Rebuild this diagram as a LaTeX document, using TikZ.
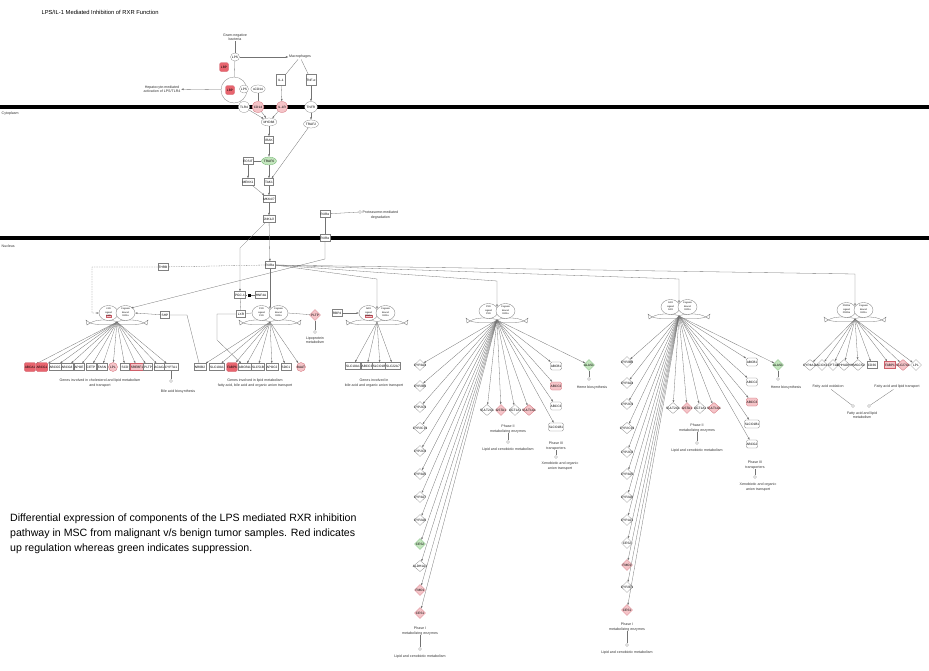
\documentclass[tikz,border=0pt]{standalone}
\usepackage{fontspec}
\setmainfont{Liberation Sans}
\usetikzlibrary{arrows.meta,shapes.geometric,positioning}
\definecolor{upstrong}{RGB}{232,100,110}
\definecolor{uplight}{RGB}{245,196,200}
\definecolor{upline}{RGB}{205,95,105}
\definecolor{dnlight}{RGB}{196,230,190}
\definecolor{dnline}{RGB}{95,170,95}
\tikzset{
  memb/.style={line width=4pt, black},
  link/.style={draw=black!55, line width=0.3pt},
  act/.style={link, -{Latex[length=2.4pt,width=1.8pt]}},
  fn/.style={font=\fontsize{3.6}{4.2}\selectfont, align=center, inner sep=0.5pt, text=black!80},
  lbl/.style={font=\fontsize{3.2}{3.6}\selectfont, inner sep=0.6pt, draw=black!50, fill=white, line width=0.25pt},
  bx/.style={lbl, rectangle, minimum width=9pt, minimum height=7pt},
  bxup/.style={bx, fill=uplight, draw=upline},
  tf/.style={lbl, ellipse, minimum width=9pt, minimum height=8pt, inner sep=0.2pt},
  tfup/.style={tf, fill=uplight, draw=upline},
  tfdn/.style={tf, fill=dnlight, draw=dnline},
  tp/.style={lbl, rectangle, rounded corners=1.5pt, minimum width=9pt, minimum height=8pt, inner sep=0.4pt},
  tpup/.style={tp, fill=uplight, draw=upline},
  tpx/.style={tp, fill=upstrong, draw=upline, minimum height=9pt},
  cir/.style={lbl, circle, minimum size=9pt, inner sep=0pt},
  cirup/.style={cir, fill=uplight, draw=upline},
  dia/.style={lbl, diamond, aspect=1.2, inner sep=-0.8pt, minimum width=11pt, minimum height=11pt},
  diaup/.style={dia, fill=uplight, draw=upline},
  diadn/.style={dia, fill=dnlight, draw=dnline},
  endpt/.style={circle, draw=black!55, fill=white, line width=0.3pt, inner sep=0pt, minimum size=3pt},
  cpx/.style={draw=black!55, fill=white, line width=0.3pt},
  ctext/.style={font=\fontsize{2.3}{2.6}\selectfont, inner sep=0.3pt},
  inred/.style={draw=upline, fill=uplight, line width=0.2pt},
  pics/dimer/.style n args={3}{code={
    \draw[cpx] (-27,10) .. controls (-20,6) and (-10,6.5) .. (0,8.5) .. controls (10,6.5) and (20,6) .. (27,10)
      .. controls (20,12.5) and (10,11) .. (0,11.5) .. controls (-10,11) and (-20,12.5) .. (-27,10) -- cycle;
    \draw[cpx] (-27,10) -- (-31,7) -- (-30,12) -- cycle;
    \draw[cpx] (27,10) -- (31,7) -- (30,12) -- cycle;
    \draw[cpx] (-8.5,0) ellipse (9.5 and 7.5);
    \draw[cpx] (8.5,0) ellipse (9.5 and 7.5);
    \node[ctext] at (-8.5,-3.8) {#1};
    \node[ctext] at (-8.5,-0.6) {Ligand};
    \node[ctext, #3] at (-8.5,3) {#2};
    \node[ctext] at (8.5,-3.8) {Cognate};
    \node[ctext] at (8.5,-0.6) {Bound};
    \node[ctext] at (8.5,3) {RXRα};
    \coordinate (-n) at (0,-4);
    \coordinate (-s) at (0,9);
    \coordinate (-w) at (-18,0);
    \coordinate (-e) at (18,0);
    \coordinate (-ne) at (14,-5);
  }}
}

\begin{document}
\begin{tikzpicture}[x=1pt,y=-1pt]
  \useasboundingbox (0,0) rectangle (929,670);
  \node[anchor=west, font=\fontsize{5.8}{7}\selectfont] (title) at (38,12) {LPS/IL-1 Mediated Inhibition of RXR Function};

  % membranes
  \draw[memb] (0,107) -- (929,107);
  \draw[memb] (0,238) -- (929,238);
  \node[fn, anchor=west] (cyto) at (1,114) {Cytoplasm};
  \node[fn, anchor=west] (nucl) at (1,246) {Nucleus};

  % extracellular
  \node[fn] (gram) at (235,37) {Gram-negative\\bacteria};
  \node[tf] (lps) at (235,57) {LPS};
  \node[fn] (macro) at (300,57) {Macrophages};
  \node[tpx] (lbp) at (224,67) {LBP};
  \node[bx, minimum height=11pt] (il1) at (281,80) {IL-1};
  \node[bx, minimum height=11pt] (tnf) at (311,80) {TNF-α};
  \node[circle, draw=black!50, line width=0.3pt, minimum size=26pt, inner sep=0pt] (lbpc) at (234,90) {};
  \node[tpx] (lbpin) at (230,90) {LBP};
  \node[tf] (lpsin) at (244,89) {LPS};
  \node[tf] (scd14) at (258,89) {sCD14};
  \node[fn] (hep) at (162,89) {Hepatocyte-mediated\\activation of LPS/TLR4};
  \draw[link] (gram) -- (lps);
  \draw[act] (lps) -- (macro);
  \draw[link] (macro) -- (il1);
  \draw[link] (macro) -- (tnf);
  \draw[link] (lps) -- (lbpc);
  \draw[act] (lbpc) -- (hep);

  % receptors
  \node[tf, minimum height=11pt] (tlr4) at (244,107) {TLR4};
  \node[tfup, minimum height=11pt] (cd14) at (258,107) {CD14};
  \node[tfup, minimum height=11pt] (il1r) at (282,107) {IL-1R};
  \node[tf, minimum height=11pt] (tnfr) at (311,107) {TNFR};
  \draw[link] (lbpc) -- (tlr4);
  \draw[link] (scd14) -- (cd14);
  \draw[act] (il1) -- (il1r);
  \draw[act] (tnf) -- (tnfr);

  % cytoplasm cascade
  \node[tf] (myd88) at (269,122) {MYD88};
  \node[tf] (traf2) at (311,124) {TRAF2};
  \node[bx] (irak) at (269,140) {IRAK};
  \node[tfdn] (traf6) at (269,161) {TRAF6};
  \node[bx] (ecsit) at (248,161) {ECSIT};
  \node[bx] (mekk1) at (248,182) {MEKK1};
  \node[bx] (tak1) at (269,182) {TAK1};
  \node[bx] (mkk) at (269,199) {MKK4/7};
  \node[bx] (jnk) at (269,219) {JNK1/2};
  \node[bx] (rxrc) at (325,214) {RXRα};
  \node[endpt] (protc) at (360,212) {};
  \node[fn, anchor=west] (prot) at (362,215) {Proteasome-mediated\\degradation};
  \draw[act] (tlr4) -- (myd88);
  \draw[act] (cd14) -- (myd88);
  \draw[act] (il1r) -- (myd88);
  \draw[act] (tnfr) -- (traf2);
  \draw[act] (myd88) -- (irak);
  \draw[act] (irak) -- (traf6);
  \draw[link] (ecsit) -- (traf6);
  \draw[act] (ecsit) -- (mekk1);
  \draw[act] (traf6) -- (tak1);
  \draw[act] (traf2) -- (tak1);
  \draw[act] (mekk1) -- (mkk);
  \draw[act] (tak1) -- (mkk);
  \draw[act] (mkk) -- (jnk);
  \draw[link] (rxrc) -- (protc);

  % nucleus
  \node[bx] (rxrm) at (325,238) {RXRα};
  \node[bx] (rxr) at (270,265) {RXRα};
  \node[bx] (thr) at (163,267) {THRB};
  \node[bx] (pgc) at (240,295) {PGC-1};
  \node[fill=black, inner sep=0pt, minimum size=3pt] (pgcdot) at (249,295) {};
  \node[bx] (hnf) at (261,295) {HNF4A};
  \node[bx] (lxrb) at (241,314) {LXR};
  \node[bx] (shp) at (165,315) {SHP};
  \node[bx] (rbp) at (337,313) {RBP4};
  \draw[link] (rxrm) -- (rxrc);
  \draw[act] (jnk) -- (rxr);
  \draw[act] (jnk) -- (240,248) -- (pgc);
  \draw[link] (pgc) -- (pgcdot) -- (hnf);
  \draw[link] (pgc) -- (lxrb);

  % heterodimers
  \pic (lxrc) at (117,313) {dimer={LXR}{LXR}{inred}};
  \pic (fxrc) at (270,313) {dimer={FXR}{FXR}{}};
  \pic (rarc) at (377,313) {dimer={RAR}{RARα}{inred}};
  \pic (pxrc) at (497,311) {dimer={PXR}{PXR}{}};
  \pic (carc) at (679,307) {dimer={CAR}{CAR}{}};
  \pic (pparc) at (855,310) {dimer={PPARα}{PPARα}{}};

  \draw[act, dash pattern=on 1.5pt off 1pt] (rxr.west) -- (thr) -- (92,267) -- (92,313) -- (lxrc-w);
  \draw[act] (rxrm) -- (325,259) -- (lxrc-ne);
  \draw[act] (shp) -- (lxrc-e);
  \draw[act] (rxr) -- (fxrc-n);
  \draw[act] (rxr.east) -- (377,279) -- (rarc-n);
  \draw[act] (rxr.east) -- (497,281) -- (pxrc-n);
  \draw[act] (rxr.east) -- (679,279) -- (carc-n);
  \draw[act] (rxr.east) -- (855,274) -- (pparc-n);
  \draw[link] (lxrb) -- (fxrc-w);
  \draw[act] (rbp) -- (rarc-w);

  % LXR targets
  \foreach \i/\x/\t/\s in {1/30/ABCA1/tpx,2/42/ABCG1/tpx,3/55/ABCG5/bx,4/67/ABCG8/bx,5/79/APOE/bx,6/91/CETP/bx,7/102/FASN/bx,8/113/LPL/cirup,9/125/SCD/bx,10/137/SREBF1/bxup,11/148/PLTP/bx,12/160/ACACA/bx,13/171/CYP7A1/bx}{
    \node[\s] (lt\i) at (\x,367) {\t};
    \draw[act] (lxrc-s) -- (lt\i);
  }
  \node[fn] (lxfn) at (100,383) {Genes involved in cholesterol and lipid metabolism\\and transport};
  \node[endpt] (babc) at (171,381) {};
  \node[fn] (bab) at (178,392) {Bile acid biosynthesis};
  \draw[link] (lt13) -- (babc);

  % FXR targets
  \foreach \i/\x/\t/\s in {1/200/NR0B2/bx,2/217/SLC10A1/bx,3/232/FABP6/tpx,4/245/ABCB11/bx,5/258/SLC51B/bx,6/272/APOC2/bx,7/286/SDC1/bx,8/301/BAAT/cirup}{
    \node[\s] (ft\i) at (\x,367) {\t};
    \draw[act] (fxrc-s) -- (ft\i);
  }
  \draw[link] (ft1) -- (187,315) -- (shp);
  \draw[act] (lxrb.west) -- (217,314) -- (217,340) -- (ft4);
  \node[fn] (fxfn) at (255,383) {Genes involved in lipid metabolism\\fatty acid, bile acid and organic anion transport};
  \node[diaup] (pltp) at (315,315) {PLTP};
  \node[endpt] (pltpc) at (315,332) {};
  \node[fn] (lipo) at (315,340) {Lipoprotein\\metabolism};
  \draw[link] (fxrc-e) -- (pltp);
  \draw[link] (pltp) -- (pltpc);

  % RAR targets
  \foreach \i/\x/\t in {1/353/SLC10A1,2/367/ABCC3,3/380/SLCO1B1,4/393/SLC22A7}{
    \node[bx] (rt\i) at (\x,366) {\t};
    \draw[act] (rarc-s) -- (rt\i);
  }
  \node[fn] (rafn) at (374,383) {Genes involved in\\bile acid and organic anion transport};

  % PXR targets
  \foreach \i/\y/\t/\s in {1/365/CYP3A4/dia,2/386/CYP2B6/dia,3/407/CYP2C9/dia,4/428/CYP2C19/dia,5/451/CYP2C8/dia,6/474/CYP3A5/dia,7/497/CYP3A7/dia,8/520/CYP2A6/dia,9/544/CES2/diadn,10/566/ALDH1A1/dia,11/590/FMO1/diaup,12/613/CES1/diaup}{
    \node[\s] (pa\i) at (420,\y) {\t};
    \draw[act] (pxrc-s) -- (pa\i);
  }
  \node[fn] (pxp1) at (420,631) {Phase I\\metabolizing enzymes};
  \node[endpt] (pxp1c) at (420,649) {};
  \node[fn] (pxp1f) at (420,657) {Lipid and xenobiotic metabolism};
  \draw[link] (pxp1) -- (pxp1c);
  \foreach \i/\x/\t/\s in {1/487/SULT2A1/dia,2/501/GSTA1/diaup,3/515/UGT1A1/dia,4/529/SULT1A1/diaup}{
    \node[\s] (pb\i) at (\x,410) {\t};
    \draw[act] (pxrc-s) -- (pb\i);
  }
  \node[fn] (pxp2) at (508,429) {Phase II\\metabolizing enzymes};
  \node[endpt] (pxp2c) at (508,442) {};
  \node[fn] (pxp2f) at (508,450) {Lipid and xenobiotic metabolism};
  \draw[link] (pxp2) -- (pxp2c);
  \foreach \i/\y/\t/\s in {1/366/ABCB1/tp,2/386/ABCC2/tpup,3/406/ABCC3/tp,4/427/SLCO1B1/tp}{
    \node[\s] (pc\i) at (556,\y) {\t};
    \draw[act] (pxrc-s) -- (pc\i);
  }
  \node[fn] (pxp3) at (556,446) {Phase III\\transporters};
  \node[endpt] (pxp3c) at (556,457) {};
  \node[fn] (pxp3f) at (560,466) {Xenobiotic and organic\\anion transport};
  \draw[link] (pxp3) -- (pxp3c);
  \node[diadn] (pxalas) at (589,365) {ALAS1};
  \node[endpt] (pxalasc) at (589,379) {};
  \node[fn] (pxheme) at (592,388) {Heme biosynthesis};
  \draw[act] (pxrc-s) -- (pxalas);
  \draw[link] (pxalas) -- (pxalasc);

  % CAR targets
  \foreach \i/\y/\t/\s in {1/362/CYP2B6/dia,2/383/CYP3A4/dia,3/404/CYP2C9/dia,4/428/CYP2C19/dia,5/452/CYP2C8/dia,6/474/CYP3A5/dia,7/497/CYP2A6/dia,8/520/CYP1A1/dia,9/543/CES2/dia,10/565/FMO1/diaup,11/587/CYP2E1/dia,12/610/CES1/diaup}{
    \node[\s] (ca\i) at (627,\y) {\t};
    \draw[act] (carc-s) -- (ca\i);
  }
  \node[fn] (cap1) at (627,627) {Phase I\\metabolizing enzymes};
  \node[endpt] (cap1c) at (627,645) {};
  \node[fn] (cap1f) at (627,653) {Lipid and xenobiotic metabolism};
  \draw[link] (cap1) -- (cap1c);
  \foreach \i/\x/\t/\s in {1/673/SULT2A1/dia,2/687/GSTA1/diaup,3/700/UGT1A1/dia,4/714/SULT1A1/diaup}{
    \node[\s] (cb\i) at (\x,408) {\t};
    \draw[act] (carc-s) -- (cb\i);
  }
  \node[fn] (cap2) at (697,428) {Phase II\\metabolizing enzymes};
  \node[endpt] (cap2c) at (697,443) {};
  \node[fn] (cap2f) at (697,451) {Lipid and xenobiotic metabolism};
  \draw[link] (cap2) -- (cap2c);
  \foreach \i/\y/\t/\s in {1/362/ABCB1/tp,2/382/ABCC2/tp,3/402/ABCC3/tpup,4/424/SLCO1B1/tp,5/444/ABCG2/tp}{
    \node[\s] (cc\i) at (752,\y) {\t};
    \draw[act] (carc-s) -- (cc\i);
  }
  \node[fn] (cap3) at (755,465) {Phase III\\transporters};
  \node[endpt] (cap3c) at (755,477) {};
  \node[fn] (cap3f) at (758,487) {Xenobiotic and organic\\anion transport};
  \draw[link] (cap3) -- (cap3c);
  \node[diadn] (caalas) at (778,365) {ALAS1};
  \node[endpt] (caalasc) at (778,379) {};
  \node[fn] (caheme) at (786,388) {Heme biosynthesis};
  \draw[act] (carc-s) -- (caalas);
  \draw[link] (caalas) -- (caalasc);

  % PPARalpha targets
  \foreach \i/\x/\t/\s in {1/810/CYP4A11/dia,2/822/ACOX1/dia,3/833/CPT1A/dia,4/844/EHHADH/dia,5/858/HMGCS2/dia,6/872/CD36/bx,7/890/FABP1/bxup,8/903/SLC27A1/diaup,9/916/LPL/dia}{
    \node[\s] (pp\i) at (\x,365) {\t};
    \draw[act] (pparc-s) -- (pp\i);
  }
  \node[fn] (faox) at (828,387) {Fatty acid oxidation};
  \node[fn] (fatr) at (897,387) {Fatty acid and lipid transport};
  \node[endpt] (faoxc) at (853,406) {};
  \node[endpt] (fatrc) at (869,406) {};
  \node[fn] (falm) at (862,415) {Fatty acid and lipid\\metabolism};
  \draw[link] (faox) -- (faoxc);
  \draw[link] (fatr) -- (fatrc);

  % caption
  \node[anchor=north west, align=left, font=\fontsize{10.6}{15}\selectfont, inner sep=0pt] (caption) at (10,514)
    {Differential expression of components of the LPS mediated RXR inhibition\\pathway in MSC from malignant v/s benign tumor samples. Red indicates\\up regulation whereas green indicates suppression.};
\end{tikzpicture}
\end{document}
